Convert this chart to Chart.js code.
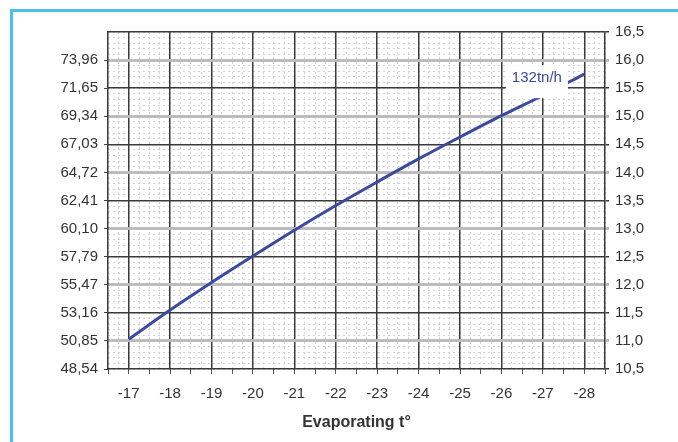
<!DOCTYPE html>
<html>
<head>
<meta charset="utf-8">
<script src="https://cdn.jsdelivr.net/npm/chart.js@4.4.0/dist/chart.umd.min.js"></script>
<style>
body { margin: 0; background: #fff; }
#wrap { position: relative; width: 678px; height: 442px; overflow: hidden; }
#frame { position: absolute; left: 10px; top: 9px; width: 720px; height: 480px; border-left: 3px solid #4cbff0; border-top: 3px solid #4cbff0; }
#chart { position: absolute; left: 0; top: 0; }
</style>
</head>
<body>
<div id="wrap">
  <div id="frame"></div>
  <canvas id="chart" width="678" height="442"></canvas>
</div>
<script>
// evaporating temperature (x) and the 132tn/h curve, read in right axis units
var evapTemps = ['-17', '-18', '-19', '-20', '-21', '-22', '-23', '-24', '-25', '-26', '-27', '-28'];
var capacity = [11.03, 11.55, 12.04, 12.51, 12.97, 13.41, 13.83, 14.24, 14.63, 15.01, 15.37, 15.75];
var leftTicks = [48.54, 50.85, 53.16, 55.47, 57.79, 60.10, 62.41, 64.72, 67.03, 69.34, 71.65, 73.96];
var leftMin = 48.54, leftMax = 76.27;
var rightMin = 10.5, rightMax = 16.5, rightStep = 0.5;
var seriesLabel = '132tn/h';
var xTitle = 'Evaporating t\u00b0';

Chart.defaults.font.family = '"Liberation Sans", Arial, sans-serif';
Chart.defaults.font.size = 15;
Chart.defaults.color = '#333';

function comma(v, d) {
    return Number(v).toFixed(d).replace('.', ',');
}

// white box with the series name sitting on the line
var lineLabel = {
    id: 'lineLabel',
    afterDatasetsDraw: function(chart) {
        var ctx = chart.ctx;
        var x = chart.scales.x.getPixelForValue(10);
        var y = chart.scales.yR.getPixelForValue(15.5);
        ctx.save();
        ctx.fillStyle = '#fff';
        ctx.fillRect(x - 37, y - 23, 62, 33);
        ctx.fillStyle = '#3a4aa0';
        ctx.font = '15px "Liberation Sans", Arial, sans-serif';
        ctx.textAlign = 'center';
        ctx.textBaseline = 'middle';
        ctx.fillText(seriesLabel, x - 6, y - 10);
        ctx.restore();
    }
};

var minorGrid = { color: '#d2d2d2', lineWidth: 1, drawTicks: false, z: -2 };

new Chart(document.getElementById('chart'), {
    type: 'line',
    data: {
        labels: evapTemps,
        datasets: [{
            data: capacity,
            xAxisID: 'x',
            yAxisID: 'yR',
            borderColor: '#3b4a9e',
            borderWidth: 3,
            pointRadius: 0,
            cubicInterpolationMode: 'monotone',
            fill: false
        }]
    },
    options: {
        responsive: false,
        animation: false,
        layout: { padding: { top: 32, left: 0, right: 0, bottom: 0 } },
        plugins: { legend: { display: false }, tooltip: { enabled: false } },
        scales: {
            x: {
                type: 'category',
                position: 'bottom',
                offset: true,
                weight: 0,
                grid: { offset: false, color: '#3a3a3a', lineWidth: 1.5, drawTicks: false },
                border: { display: false },
                ticks: { padding: 11, maxRotation: 0, autoSkip: false },
                title: { display: true, text: xTitle, font: { size: 16, weight: 'bold' }, color: '#333', padding: { top: 0, bottom: 10 } },
                afterFit: function(s) { s.height = 68; }
            },
            xTick: {
                type: 'linear',
                position: 'bottom',
                weight: -1,
                min: 0, max: 12,
                grid: { drawOnChartArea: false, drawTicks: true, tickLength: 5, color: '#555', lineWidth: 1 },
                border: { display: false },
                ticks: { display: false, stepSize: 0.5, autoSkip: false }
            },
            xMinor: {
                type: 'linear',
                position: 'bottom',
                weight: -2,
                min: 0, max: 12,
                grid: minorGrid,
                border: { display: false, dash: [2, 3] },
                ticks: { display: false, stepSize: 0.25, autoSkip: false }
            },
            yL: {
                type: 'linear',
                position: 'left',
                min: leftMin, max: leftMax,
                afterBuildTicks: function(s) {
                    s.ticks = leftTicks.map(function(v) { return { value: v }; });
                },
                grid: { drawOnChartArea: false, drawTicks: true, tickLength: 4, color: '#444', lineWidth: 1 },
                border: { display: true, color: '#3a3a3a', width: 1.5 },
                ticks: { padding: 6, callback: function(v) { return comma(v, 2); } },
                afterFit: function(s) { s.width = 108; }
            },
            yR: {
                type: 'linear',
                position: 'right',
                min: rightMin, max: rightMax,
                grid: {
                    tickLength: 4,
                    color: function(c) { return Math.abs(c.tick.value % 1) < 0.01 ? '#bcbcbc' : '#3a3a3a'; },
                    lineWidth: function(c) { return Math.abs(c.tick.value % 1) < 0.01 ? 3 : 1.5; }
                },
                border: { display: true, color: '#3a3a3a', width: 1.5 },
                ticks: { stepSize: rightStep, padding: 6, callback: function(v) { return comma(v, 1); } },
                afterFit: function(s) { s.width = 73; }
            },
            yMinor: {
                type: 'linear',
                position: 'right',
                weight: 5,
                min: rightMin, max: rightMax,
                grid: minorGrid,
                border: { display: false, dash: [2, 3] },
                ticks: { display: false, stepSize: 0.1, autoSkip: false },
                afterFit: function(s) { s.width = 0; }
            }
        }
    },
    plugins: [lineLabel]
});
</script>
</body>
</html>
